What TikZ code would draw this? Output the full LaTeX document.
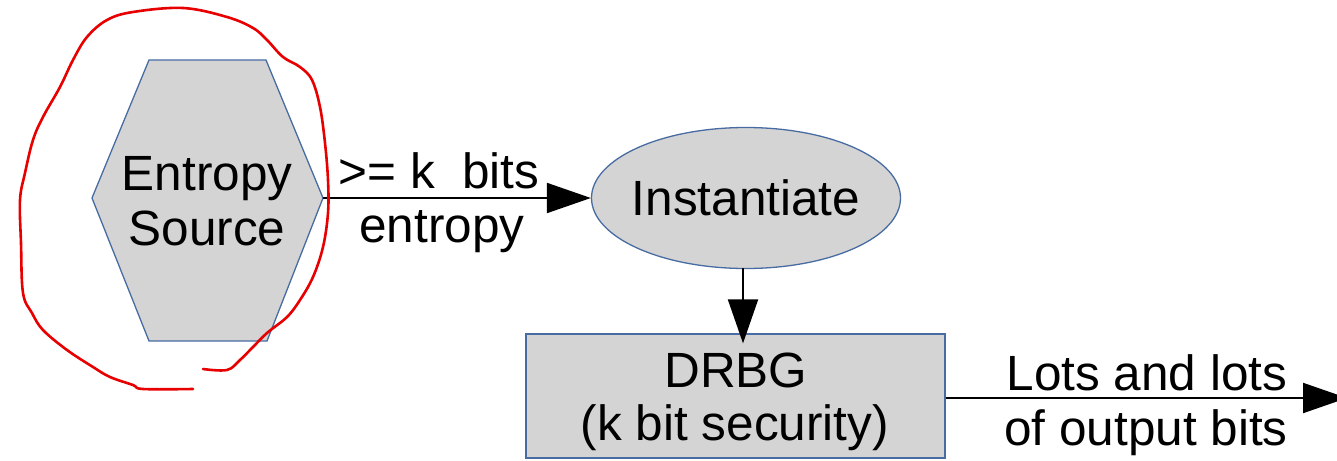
\documentclass[tikz,border=0pt]{standalone}
\usepackage{fontspec}
\setmainfont{Liberation Sans}
\usetikzlibrary{shapes.geometric,arrows.meta}
\definecolor{boxfill}{RGB}{212,212,212}
\definecolor{boxline}{RGB}{72,108,162}
\definecolor{ink}{RGB}{232,0,0}
\tikzset{
  shapebox/.style={fill=boxfill, draw=boxline, line width=1.3pt},
  bigfont/.style={font=\fontsize{49.5}{56}\selectfont},
  txt/.style={bigfont, inner sep=0pt, anchor=base},
  flow/.style={line width=2pt, -{Triangle[length=44pt,width=30pt]}},
  marker/.style={draw=ink, line width=2.6pt, line cap=round, line join=round}
}
\begin{document}
\begin{tikzpicture}[x=1pt,y=-1pt]
\useasboundingbox (0,0) rectangle (1337,460);

% entropy source: flat-topped hexagon
\coordinate (hL)  at (92,198);
\coordinate (hTL) at (149,60);
\coordinate (hTR) at (266,60);
\coordinate (hR)  at (323,198);
\coordinate (hBR) at (267,341);
\coordinate (hBL) at (149,341);
\draw[shapebox] (hL) -- (hTL) -- (hTR) -- (hR) -- (hBR) -- (hBL) -- cycle;
\node[txt] (srcA) at (207,190) {Entropy};
\node[txt] (srcB) at (207,245) {Source};

% instantiate (zero-width text box so the ellipse keeps its set size)
\node[shapebox, ellipse, bigfont, inner sep=0pt, minimum width=309pt, minimum height=141pt] (inst) at (746,198) {\makebox[0pt]{Instantiate}};

% drbg box
\node[shapebox, rectangle, inner sep=0pt, minimum width=419pt, minimum height=124pt] (drbg) at (735.5,396) {};
\node[txt] (drbgA) at (736,387) {DRBG};
\node[txt] (drbgB) at (735,440) {(k bit security)};

% connectors
\draw[flow] (hR) -- (inst.west);
\node[txt] (inA) at (439,188) {>= k\ \ bits};
\node[txt] (inB) at (442,242) {entropy};

\coordinate (instS) at (743,268);
\draw[flow, shorten >=-10pt] (instS) -- (instS |- drbg.north);

\coordinate (out) at (1347,398);
\draw[flow] (drbg.east |- out) -- (out);
\node[txt] (outA) at (1147,390) {Lots and lots};
\node[txt] (outB) at (1146,445) {of output bits};

% hand-drawn ring around the entropy source
\draw[marker] plot[smooth, tension=0.6] coordinates {
  (203,369) (227,370) (240,360) (253,347) (267,333) (287,317) (300,300)
  (313,277) (323,247) (328,213) (328,180) (325,143) (320,107) (312,80)
  (300,67) (283,57) (267,40) (253,28) (227,17) (183,8) (133,12) (107,20)
  (87,37) (73,60) (60,87) (43,117) (33,140) (25,173) (20,200) (21,243)
  (23,293) (32,313) (43,330) (67,350) (93,367) (110,377) (133,385)
  (143,389) (193,389)};
\end{tikzpicture}
\end{document}
